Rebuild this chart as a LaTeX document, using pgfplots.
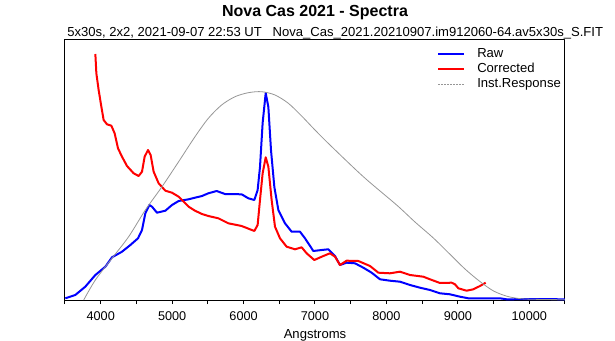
\documentclass[border=0pt]{standalone}
\usepackage{fontspec}
\setmainfont{Liberation Sans}
\usepackage{pgfplots}
\pgfplotsset{compat=1.18}
\definecolor{instgray}{RGB}{150,150,150}
\begin{document}
\begin{tikzpicture}[x=1pt,y=1pt]
\useasboundingbox (-48.75pt,-30pt) rectangle (412.5pt,225pt);
\begin{axis}[
  at={(0pt,0pt)}, anchor=south west,
  scale only axis, width=375pt, height=195pt,
  xmin=3500, xmax=10500, ymin=0, ymax=260,
  xtick={4000,5000,...,10000},
  minor xtick={3500,4500,...,10500},
  ytick=\empty,
  xtick pos=bottom,
  tick align=outside,
  major tick length=3pt, minor tick length=3pt,
  every tick/.style={black, line width=0.75pt},
  minor tick style={black, line width=0.75pt},
  axis line style={line width=0.75pt},
  scaled x ticks=false,
  /pgf/number format/1000 sep={},
  /pgf/number format/assume math mode=true,
  ticklabel style={font=\fontsize{9.5}{11}\selectfont, yshift=-2pt},
  xlabel={Angstroms},
  xlabel style={font=\fontsize{9.8}{11}\selectfont},
  legend image code/.code={\draw[#1] (0pt,0pt) -- (19.5pt,0pt);},
  legend style={at={(axis cs:8712,252.5)}, anchor=north west, draw=none, fill=none,
    font=\fontsize{9.8}{11}\selectfont, inner sep=0pt, outer sep=0pt, row sep=1.75pt,
    nodes={inner sep=0pt, text height=7.5pt, text depth=2pt},
    /tikz/every odd column/.append style={column sep=9pt}},
  legend cell align=left,
  line join=round,
]
\addplot[blue, line width=1.5pt] coordinates {
(3504,1.7) (3644,5) (3784,13.3) (3925,25) (4065,33.3) (4158,42.7) (4298,48.3) (4415,55)
(4522,61.7) (4578,70) (4625,86.7) (4681,95) (4718,93.3) (4788,87.3) (4905,89.3) (4998,95)
(5091,99) (5231,100.7) (5320,102.3) (5418,104) (5507,106.7) (5623,109) (5740,106) (5973,105.7)
(6067,101.7) (6151,100) (6197,110) (6230,133) (6267,177) (6310,207) (6347,193) (6384,150)
(6431,113) (6487,90) (6580,76.7) (6673,68.3) (6790,68.3) (6860,61.7) (6977,49) (7093,50)
(7187,50.7) (7280,44) (7350,35) (7443,37.3) (7560,36.7) (7677,32.3) (7793,27.3) (7910,20.7)
(8050,19.3) (8190,18.3) (8330,15) (8470,12.3) (8610,10) (8750,6.7) (8890,5.7) (9030,3.3)
(9147,1.7) (9590,1.7) (9683,0.7) (10290,1) (10500,0.5)
};
\addplot[red, line width=1.5pt] coordinates {
(3925,246) (3939,226.7) (3971,210) (4009,193.3) (4041,180) (4088,175.7) (4149,174.3) (4195,166.7)
(4242,151.7) (4298,143.3) (4368,134) (4461,126.7) (4531,124) (4578,128.3) (4615,143.3) (4662,150)
(4699,145) (4741,128.3) (4811,116.7) (4905,109.3) (4998,107.3) (5091,103.3) (5231,93.3) (5320,89.3)
(5418,86) (5507,84) (5647,81.7) (5787,76.7) (5973,74) (6151,69) (6197,75) (6230,100)
(6267,126.7) (6310,142.7) (6347,133.3) (6393,100) (6440,73.3) (6510,61.7) (6603,53.3) (6720,50.7)
(6813,52.7) (6883,46.7) (6990,40) (7117,44) (7210,46.7) (7280,43.3) (7350,35) (7443,39.3)
(7607,39) (7770,34) (7887,27.3) (8050,26.7) (8190,28.3) (8330,25) (8517,23.3) (8610,20.7)
(8750,17) (8913,17.3) (8960,15.7) (9007,11.7) (9123,9.3) (9217,10.7) (9310,14) (9390,17.3)
};
\addplot[instgray, line width=0.6pt, smooth,
  legend image code/.code={\draw[instgray, dash pattern=on 1.5pt off 0.75pt, line width=0.5pt] (0pt,0pt) -- (19.5pt,0pt);}] coordinates {
(3762,0) (3925,20) (4158,41.7) (4391,63.3) (4625,90) (4858,113.3) (5091,138.3) (5320,163.3)
(5507,181.7) (5693,195) (5880,203.3) (6067,207.3) (6253,208.3) (6440,205) (6627,196.7) (6813,184)
(7000,170) (7210,155) (7677,123.3) (8143,95) (8400,78) (8657,62) (8900,45) (9100,31)
(9300,19) (9500,9) (9700,3.5) (9900,1.2) (10200,0.5) (10500,0.3)
};
\legend{Raw,Corrected,Inst.Response}
\end{axis}
\node[font=\bfseries\fontsize{12}{14}\selectfont, anchor=base] at (187.5pt,212.5pt) {Nova Cas 2021 - Spectra};
\node[font=\fontsize{9.8}{11}\selectfont, anchor=base west, inner sep=0pt] at (1.5pt,197.5pt) {5x30s, 2x2, 2021-09-07 22:53 UT\hspace{8pt}Nova\_Cas\_2021.20210907.im912060-64.av5x30s\_S.FIT};
\end{tikzpicture}
\end{document}
